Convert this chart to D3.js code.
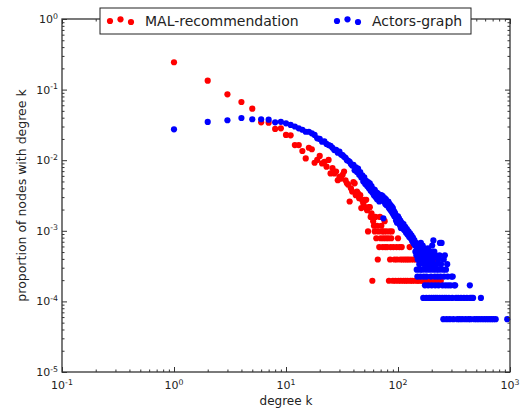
<!DOCTYPE html>
<html>
<head>
<meta charset="utf-8">
<title>Degree distribution</title>
<style>
	body { margin: 0; background: #fff; }
	text { font-family: "DejaVu Sans", sans-serif; fill: #222; }
</style>
</head>
<body>
<script src="https://cdn.jsdelivr.net/npm/d3@7"></script>
<script>
	// degree k, proportion of nodes
	var malPoints = [
		[1,0.244],[2,0.134],[3,0.0857],[4,0.0667],[5,0.0537],[6,0.0344],[7,0.034],[8,0.0277],[9,0.0283],[10,0.0228],
		[11,0.0225],[12,0.0164],[13,0.0164],[14,0.0135],[15,0.0106],[16,0.015],[17,0.0143],[18,0.0092],[19,0.0101],[20,0.0115],
		[21,0.009],[22,0.0095],[23,0.0081],[24,0.0101],[25,0.0065],[26,0.0077],[27,0.0065],[28,0.0069],[29,0.0052],[30,0.0058],
		[31,0.0055],[32,0.0062],[33,0.0069],[34,0.0052],[35,0.0047],[36,0.0045],[37,0.0026],[38,0.004],[39,0.0036],[40,0.0049],
		[41,0.0047],[42,0.0032],[43,0.0036],[44,0.0034],[45,0.0029],[46,0.0032],[47,0.0021],[48,0.0027],[49,0.00245],[50,0.00275],
		[51,0.00216],[52,0.00275],[53,0.00196],[54,0.00098],[55,0.00216],[56,0.00216],[57,0.00157],[58,0.00176],[59,0.000196],[60,0.00137],
		[61,0.00118],[62,0.00098],[63,0.00157],[64,0.000784],[65,0.00118],[66,0.000392],[67,0.00098],[68,0.000588],[69,0.00157],[70,0.000784],
		[71,0.00118],[72,0.00098],[73,0.000588],[74,0.000784],[75,0.00098],[76,0.00137],[77,0.000588],[78,0.000784],[79,0.00098],[80,0.000588],
		[82,0.000784],[83,0.000196],[84,0.00098],[85,0.000392],[86,0.000588],[87,0.000784],[88,0.00098],[90,0.000196],[91,0.000588],[93,0.000392],
		[95,0.000196],[97,0.000588],[98,0.000392],[100,0.000784],[101,0.000196],[103,0.000588],[105,0.000392],[106,0.000196],[108,0.000588],[110,0.000392],
		[112,0.000196],[115,0.000392],[117,0.000196],[120,0.000392],[122,0.000196],[125,0.000392],[127,0.000588],[129,0.000196],[131,0.000392],[134,0.000196],
		[138,0.000392],[141,0.000196],[145,0.000392],[149,0.000196],[153,0.000196],[158,0.000392],[162,0.000196],[167,0.000196],[172,0.000392],[177,0.000196],
		[182,0.000196],[188,0.000196],[194,0.000392],[200,0.000196],[206,0.000196],[212,0.000392],[219,0.000196],[226,0.000196],[233,0.000196],[241,0.000196]
	];

	var actorsPoints = [
		[1,0.0274],[2,0.0348],[3,0.0368],[4,0.0396],[5,0.038],[6,0.038],[7,0.0375],[8,0.0344],[9,0.035],[10,0.0333],
		[11,0.0316],[12,0.03],[13,0.0283],[14,0.027],[15,0.0253],[16,0.0253],[17,0.024],[18,0.0228],[19,0.0204],[20,0.02],
		[21,0.0183],[22,0.0185],[23,0.017],[24,0.0164],[25,0.016],[26,0.015],[27,0.0139],[28,0.014],[29,0.0128],[30,0.0132],
		[31,0.012],[32,0.0118],[33,0.0112],[34,0.0108],[35,0.01],[36,0.0098],[37,0.0095],[38,0.0088],[39,0.0084],[40,0.0086],
		[41,0.0072],[42,0.0079],[43,0.0068],[44,0.0076],[45,0.0062],[46,0.0068],[47,0.0057],[48,0.0061],[49,0.005],[50,0.0057],
		[51,0.0046],[52,0.0051],[53,0.0043],[54,0.0049],[55,0.004],[56,0.0047],[57,0.0037],[58,0.0043],[59,0.0035],[60,0.0039],
		[61,0.0032],[62,0.0038],[63,0.003],[64,0.0035],[65,0.0028],[66,0.0034],[67,0.0031],[68,0.0026],[69,0.0032],[70,0.0028],
		[71,0.0032],[72,0.0027],[73,0.0031],[74,0.0015],[75,0.0026],[76,0.0029],[77,0.0024],[78,0.0028],[79,0.0023],[80,0.0026],
		[81,0.0023],[82,0.0026],[83,0.0021],[84,0.0024],[85,0.002],[86,0.0023],[87,0.0019],[88,0.0022],[89,0.0018],[90,0.0021],
		[91,0.0017],[92,0.0019],[93,0.0016],[94,0.0018],[95,0.0017],[96,0.0014],[97,0.0016],[98,0.0013],[100,0.0016],[101,0.0013],
		[102,0.0015],[104,0.0012],[105,0.0014],[106,0.0011],[108,0.0013],[110,0.00108],[112,0.00124],[114,0.00102],[116,0.00114],[118,0.00094],
		[120,0.00106],[122,0.00088],[124,0.00098],[126,0.00082],[128,0.00092],[130,0.00078],[132,0.00086],[134,0.00071],[136,0.0008],[138,0.00066],
		[140,0.00074],[142,6.18e-4],[143,5.06e-4],[145,6.74e-4],[146,4.49e-4],[147,2.81e-4],[148,5.62e-4],[149,2.25e-4],[150,3.93e-4],[151,6.18e-4],
		[153,5.06e-4],[155,3.37e-4],[156,5.62e-4],[157,2.81e-4],[158,4.49e-4],[159,2.25e-4],[160,6.74e-4],[161,3.93e-4],[163,5.06e-4],[165,2.81e-4],
		[166,6.18e-4],[168,1.12e-4],[169,4.49e-4],[170,2.25e-4],[171,3.37e-4],[172,5.62e-4],[174,1.69e-4],[175,3.93e-4],[177,5.06e-4],[178,2.81e-4],
		[179,1.12e-4],[180,2.25e-4],[181,4.49e-4],[183,3.37e-4],[185,5.62e-4],[186,1.69e-4],[188,3.93e-4],[190,1.12e-4],[191,2.81e-4],[193,5.06e-4],
		[195,3.37e-4],[197,2.25e-4],[198,4.49e-4],[199,1.12e-4],[200,1.69e-4],[202,6.18e-4],[204,3.93e-4],[205,2.81e-4],[207,7.3e-4],[208,1.12e-4],
		[209,3.37e-4],[211,5.06e-4],[213,2.25e-4],[215,1.69e-4],[216,1.12e-4],[217,4.49e-4],[219,2.81e-4],[222,3.37e-4],[224,1.12e-4],[226,2.25e-4],
		[228,3.93e-4],[230,1.69e-4],[233,2.81e-4],[235,4.49e-4],[236,1.12e-4],[237,6.74e-4],[240,2.25e-4],[242,3.37e-4],[245,6.74e-4],[248,1.12e-4],
		[250,1.69e-4],[252,2.81e-4],[254,5.6e-5],[256,3.93e-4],[258,2.25e-4],[260,1.12e-4],[262,4.49e-4],[265,1.69e-4],[268,2.81e-4],[270,1.12e-4],
		[272,5.6e-5],[275,3.37e-4],[278,2.25e-4],[280,1.69e-4],[285,1.12e-4],[290,5.6e-5],[295,1.69e-4],[300,2.25e-4],[305,1.12e-4],[308,2.25e-4],
		[312,5.6e-5],[318,1.69e-4],[324,1.69e-4],[330,1.12e-4],[338,5.6e-5],[345,1.12e-4],[355,5.6e-5],[365,1.12e-4],[375,5.6e-5],[388,1.12e-4],
		[400,5.6e-5],[412,1.12e-4],[425,5.6e-5],[438,1.69e-4],[440,1.12e-4],[445,5.6e-5],[455,1.12e-4],[468,1.12e-4],[480,5.6e-5],[505,5.6e-5],
		[530,5.6e-5],[550,1.12e-4],[560,5.6e-5],[590,5.6e-5],[620,5.6e-5],[650,5.6e-5],[680,5.6e-5],[710,5.6e-5],[745,5.6e-5],[945,5.6e-5]
	];

	var seriesNames = ["MAL-recommendation", "Actors-graph"];
	var seriesColors = ["#ff0000", "#0000ff"];
	var xTickExps = [-1, 0, 1, 2, 3];
	var yTickExps = [-5, -4, -3, -2, -1, 0];

	var w = 532,
		h = 413,
		padL = 62, padR = 510, padT = 19, padB = 372;

	var svg = d3.select("body").append("svg")
			.attr("width", w)
			.attr("height", h);

	var x = d3.scaleLog().domain([0.1, 1000]).range([padL, padR]);
	var y = d3.scaleLog().domain([1e-5, 1]).range([padB, padT]);

	var xMajor = xTickExps.map(function(e) { return Math.pow(10, e); });
	var yMajor = yTickExps.map(function(e) { return Math.pow(10, e); });
	function minors(majors) {
		var out = [];
		majors.slice(0, -1).forEach(function(d) {
			for (var m = 2; m < 10; m++) out.push(d * m);
		});
		return out;
	}
	var xMinor = minors(xMajor), yMinor = minors(yMajor);

	// data first, frame and ticks on top
	var plot = svg.append("g");
	[malPoints, actorsPoints].forEach(function(pts, i) {
		plot.append("g").selectAll("circle")
			.data(pts)
			.enter()
			.append("circle")
				.attr("cx", function(d) { return x(d[0]); })
				.attr("cy", function(d) { return y(d[1]); })
				.attr("r", 3.1)
				.attr("fill", seriesColors[i]);
	});

	function drawAxis(axisFn, scale, majors, mins, transform) {
		var g1 = svg.append("g").attr("transform", transform)
			.call(axisFn(scale).tickValues(majors).tickSize(-5).tickFormat(""));
		var g2 = svg.append("g").attr("transform", transform)
			.call(axisFn(scale).tickValues(mins).tickSize(-2.5).tickFormat(""));
		[g1, g2].forEach(function(g) {
			g.select(".domain").remove();
			g.selectAll("line").attr("stroke", "#333").attr("stroke-width", 1);
		});
	}
	drawAxis(d3.axisBottom, x, xMajor, xMinor, "translate(0," + padB + ")");
	drawAxis(d3.axisTop, x, xMajor, xMinor, "translate(0," + padT + ")");
	drawAxis(d3.axisLeft, y, yMajor, yMinor, "translate(" + padL + ",0)");
	drawAxis(d3.axisRight, y, yMajor, yMinor, "translate(" + padR + ",0)");

	svg.append("rect")
		.attr("x", padL).attr("y", padT)
		.attr("width", padR - padL).attr("height", padB - padT)
		.attr("fill", "none")
		.attr("stroke", "#333")
		.attr("stroke-width", 1.3);

	// tick labels as 10^e
	var xl = svg.append("g").selectAll("text")
		.data(xTickExps)
		.enter()
		.append("text")
			.attr("x", function(d) { return x(Math.pow(10, d)); })
			.attr("y", 389)
			.attr("text-anchor", "middle")
			.attr("font-size", "11px");
	xl.append("tspan").text("10");
	xl.append("tspan").attr("dy", -4.5).attr("font-size", "7.8px").text(function(d) { return d; });

	var yl = svg.append("g").selectAll("text")
		.data(yTickExps)
		.enter()
		.append("text")
			.attr("x", 58)
			.attr("y", function(d) { return y(Math.pow(10, d)) + 4; })
			.attr("text-anchor", "end")
			.attr("font-size", "11px");
	yl.append("tspan").text("10");
	yl.append("tspan").attr("dy", -4.5).attr("font-size", "7.8px").text(function(d) { return d; });

	svg.append("text")
		.attr("x", (padL + padR) / 2)
		.attr("y", 405)
		.attr("text-anchor", "middle")
		.attr("font-size", "12px")
		.text("degree k");

	svg.append("text")
		.attr("transform", "translate(26," + ((padT + padB) / 2) + ") rotate(-90)")
		.attr("text-anchor", "middle")
		.attr("font-size", "12.5px")
		.text("proportion of nodes with degree k");

	// legend
	var legend = svg.append("g");
	legend.append("rect")
		.attr("x", 100).attr("y", 8)
		.attr("width", 371).attr("height", 26)
		.attr("fill", "#fff")
		.attr("stroke", "#222")
		.attr("stroke-width", 1);

	var legendX = [110, 337];
	var markerDx = [0, 10.5, 21];
	var markerDy = [21, 19.3, 22];
	seriesNames.forEach(function(name, i) {
		markerDx.forEach(function(dx, j) {
			legend.append("circle")
				.attr("cx", legendX[i] + dx)
				.attr("cy", markerDy[j])
				.attr("r", 3.1)
				.attr("fill", seriesColors[i]);
		});
		legend.append("text")
			.attr("x", legendX[i] + 35)
			.attr("y", 26)
			.attr("font-size", "14px")
			.text(name);
	});
</script>
</body>
</html>
